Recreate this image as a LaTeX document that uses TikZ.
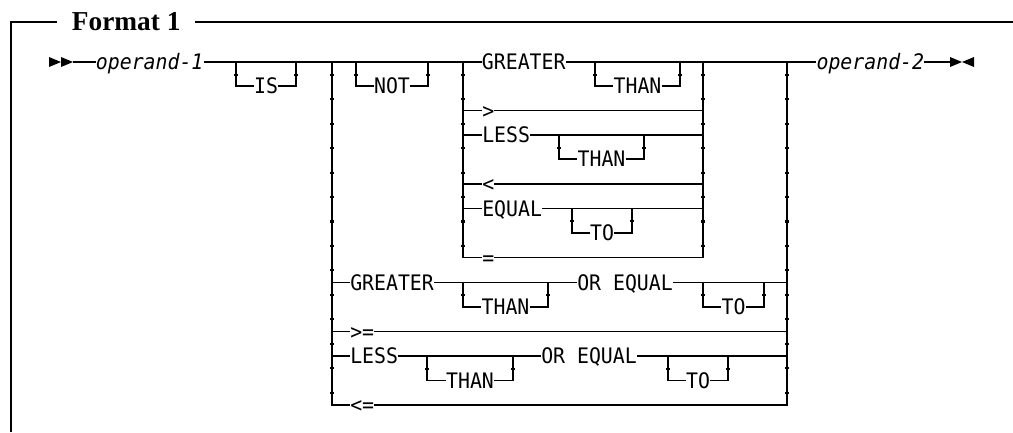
\documentclass[tikz,border=0pt]{standalone}
\usepackage{fontspec}
\newfontfamily\railfont{DejaVu Sans Mono}[FakeStretch=0.93]
\newfontfamily\titlefont{Liberation Serif}
\usetikzlibrary{positioning}

\begin{document}
\begin{tikzpicture}[
        x=0.75pt, y=-0.75pt,
        rail/.style={draw=black, line width=1.1pt},
        railtick/.style={line width=2.4pt, dash pattern=on 1.6pt off 16.74pt, dash phase=9.57pt},
        kw/.style={font=\railfont\fontsize{16pt}{18pt}\selectfont, inner xsep=0pt, inner ysep=0pt, text height=11.7pt, text depth=0pt},
        var/.style={kw, font=\railfont\itshape\fontsize{16pt}{18pt}\selectfont},
        frametitle/.style={font=\titlefont\bfseries\fontsize{20.5pt}{24pt}\selectfont, inner xsep=11pt, inner ysep=0pt, text height=13.5pt, text depth=0pt},
        tipfill/.style={fill=black}
    ]
    \useasboundingbox (0,0) rectangle (1013,432);

    % Rahmen
    \coordinate (fb) at (11,432);
    \coordinate (ft) at (11,22);
    \coordinate (fe) at (1013,22);
    \node[frametitle, anchor=west] (fmt) at (57,22) {Format 1};
    \draw[rail] (fb) -- (ft) -- (fmt.west);
    \draw[rail] (fmt.east) -- (fe);

    % Knoten
    \coordinate (s) at (73,62);
    \coordinate (bl) at (332,62);
    \coordinate (il) at (463,62);
    \coordinate (ir) at (703,62);
    \coordinate (br) at (787,62);
    \coordinate (e) at (950,62);

    \node[var, right=17pt of s] (op1) {operand-1};
    \node[var, right=22pt of br] (op2) {operand-2};

    \coordinate (isL) at (236,62);
    \coordinate (isR) at (296,62);
    \node[kw] (is) at (266,86) {IS};
    \coordinate (notL) at (356,62);
    \coordinate (notR) at (428,62);
    \node[kw] (not) at (392,86) {NOT};

    % innere Auswahl
    \node[kw, right=14pt of il] (gt1) {GREATER};
    \coordinate (than1L) at (595,62);
    \coordinate (than1R) at (680,62);
    \node[kw] (than1) at (637.5,86) {THAN};
    \node[kw, anchor=west] (gt2) at (482,110.5) {>};
    \node[kw, anchor=west] (ls1) at (482,135) {LESS};
    \coordinate (than2L) at (559,135);
    \coordinate (than2R) at (644,135);
    \node[kw] (than2) at (601.5,159) {THAN};
    \node[kw, anchor=west] (ls2) at (482,184) {<};
    \node[kw, anchor=west] (eq1) at (482,208.5) {EQUAL};
    \coordinate (to1L) at (572,208.5);
    \coordinate (to1R) at (632,208.5);
    \node[kw] (to1) at (602,233) {TO};
    \node[kw, anchor=west] (eq2) at (482,257.5) {=};

    % untere Zeilen
    \node[kw, anchor=west] (gr) at (350,282.5) {GREATER};
    \coordinate (than3L) at (463,282.5);
    \coordinate (than3R) at (548,282.5);
    \node[kw] (than3) at (505.5,307) {THAN};
    \node[kw, anchor=west] (oe1) at (577,282.5) {OR EQUAL};
    \coordinate (to2L) at (703,282.5);
    \coordinate (to2R) at (764,282.5);
    \node[kw] (to2) at (733.5,307) {TO};
    \node[kw, anchor=west] (ge) at (350,331.5) {>=};
    \node[kw, anchor=west] (lt) at (350,356) {LESS};
    \coordinate (than4L) at (427,356);
    \coordinate (than4R) at (513,356);
    \node[kw] (than4) at (470,380.5) {THAN};
    \node[kw, anchor=west] (oe2) at (541,356) {OR EQUAL};
    \coordinate (to3L) at (668,356);
    \coordinate (to3R) at (728,356);
    \node[kw] (to3) at (698,380.5) {TO};
    \node[kw, anchor=west] (le) at (350,405) {<=};

    % Kanten
    \draw[rail] (s) -- (op1);
    \draw[rail] (op1) -- (il) -- (gt1);
    \draw[rail] (gt1) -- (br) -- (op2);
    \draw[rail] (op2) -- (e);
    \foreach \n in {is, not, than1, than2, to1, than3, to2, than4, to3}
        \draw[rail] (\n L) |- (\n) -| (\n R);
    \draw[rail] (il) |- (eq2) -| (ir);
    \foreach \n in {gt2, ls1, ls2, eq1}
        \draw[rail] (il |- \n) -- (\n) -- (ir |- \n);
    \draw[rail] (bl) |- (le) -| (br);
    \draw[rail] (bl |- gr) -- (gr) -- (oe1) -- (br |- oe1);
    \draw[rail] (bl |- ge) -- (ge) -- (br |- ge);
    \draw[rail] (bl |- lt) -- (lt) -- (oe2) -- (br |- oe2);

    % Start- und Endmarken
    \foreach \x in {49, 61, 950}
        \fill[tipfill] (\x,57) -- ++(12,5) -- ++(-12,5) -- cycle;
    \fill[tipfill] (974,57) -- (962,62) -- (974,67) -- cycle;

    % Teilstriche
    \foreach \x/\a/\b in {332/62/405, 463/62/257.5, 703/62/257.5, 787/62/405,
            236/62/86, 296/62/86, 356/62/86, 428/62/86, 595/62/86, 680/62/86,
            559/135/159, 644/135/159, 572/208.5/233, 632/208.5/233,
            463/282.5/307, 548/282.5/307, 703/282.5/307, 764/282.5/307,
            427/356/380.5, 513/356/380.5, 668/356/380.5, 728/356/380.5}
        \draw[railtick] (\x,\a) -- (\x,\b);

\end{tikzpicture}
\end{document}
